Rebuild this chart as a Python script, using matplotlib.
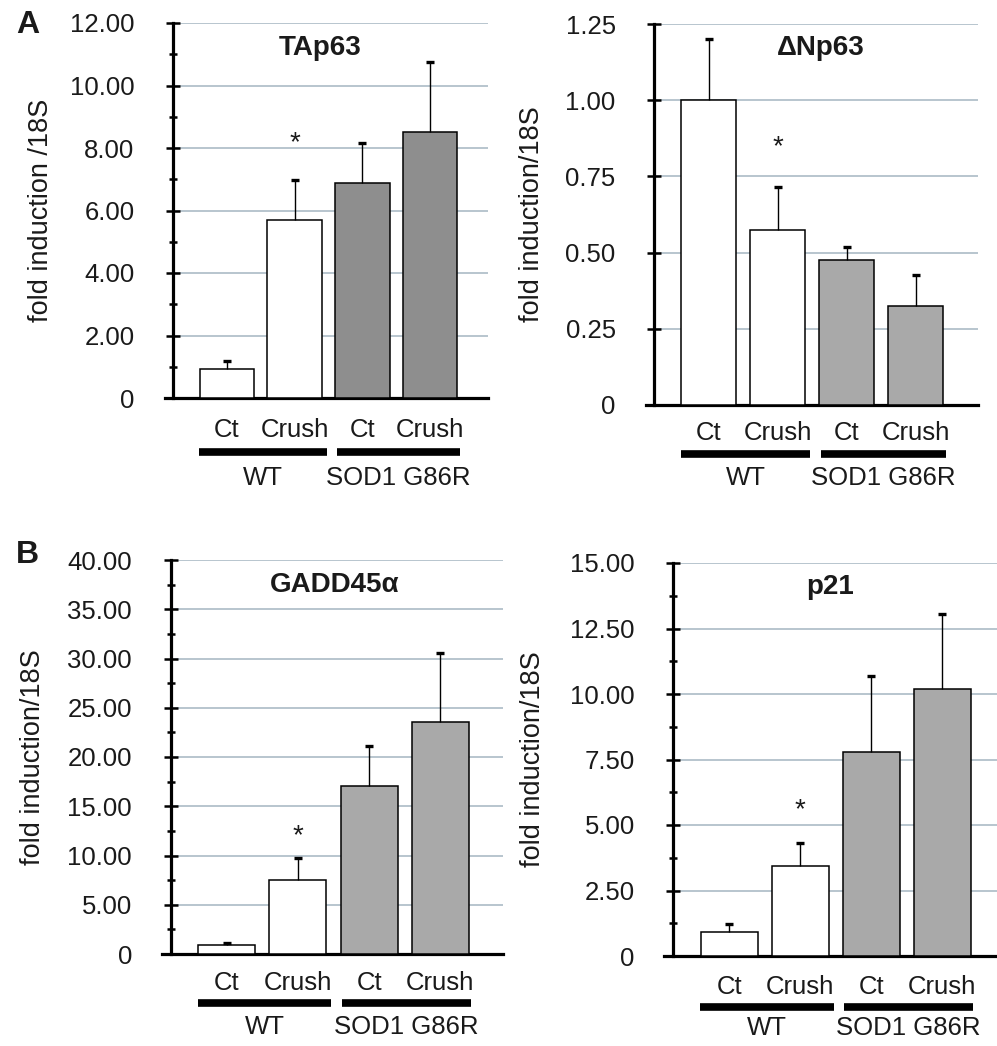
import numpy as np
import matplotlib
matplotlib.use('Agg')
import matplotlib.pyplot as plt
from matplotlib.ticker import MultipleLocator, FuncFormatter
from matplotlib.transforms import blended_transform_factory, offset_copy

plt.rcParams['font.family'] = ['Liberation Sans', 'DejaVu Sans']

# data
conditions = ['Ct', 'Crush', 'Ct', 'Crush']
groups = ['WT', 'SOD1 G86R']
star_bar = 1  # WT Crush

tap63_mean = [0.93, 5.70, 6.88, 8.50]
tap63_err = [0.25, 1.28, 1.28, 2.25]

dnp63_mean = [1.00, 0.575, 0.475, 0.325]
dnp63_err = [0.20, 0.14, 0.045, 0.102]

gadd45_mean = [0.9, 7.5, 17.1, 23.6]
gadd45_err = [0.2, 2.25, 4.0, 7.0]

p21_mean = [0.92, 3.45, 7.78, 10.2]
p21_err = [0.30, 0.85, 2.92, 2.87]

W, H = 997, 1046
fig = plt.figure(figsize=(W / 100, H / 100), dpi=100)
txt = '#1a1a1a'


def px_axes(left, right, top, bottom):
    return fig.add_axes([left / W, 1 - bottom / H, (right - left) / W, (bottom - top) / H])


def panel(ax, mean, err, title, ymax, major, minor, ylabel, xlim, gray,
          title_xy, star_y, offs, lab_x):
    x = np.arange(len(mean))
    mean = np.array(mean)
    err = np.array(err)
    colors = ['white', 'white', gray, gray]
    spine_x = -0.79
    ax.set_xlim(*xlim)
    ax.set_ylim(0, ymax)
    ax.bar(x, mean, width=0.8, color=colors, edgecolor='black', linewidth=1.1, zorder=3)
    # upper error bars only, cap at the top
    ax.vlines(x, mean, mean + err, colors='black', linewidth=1.0, zorder=4)
    ax.plot(x, mean + err, linestyle='none', marker='_', markersize=5.5,
            markeredgewidth=2.4, color='black', zorder=4, clip_on=False)
    ticks = np.arange(major, ymax + major / 2, major)
    ax.hlines(ticks, spine_x, xlim[1], colors='#b2c0ca', linewidth=1.3, zorder=0)

    for s in ['top', 'right']:
        ax.spines[s].set_visible(False)
    ax.spines['left'].set_position(('data', spine_x))
    ax.spines['left'].set_linewidth(2.3)
    ax.spines['bottom'].set_linewidth(2.3)
    ax.set_xticks([])
    ax.yaxis.set_major_locator(MultipleLocator(major))
    if minor:
        ax.yaxis.set_minor_locator(MultipleLocator(minor))
    ax.yaxis.set_major_formatter(FuncFormatter(lambda v, p: '0' if v == 0 else '%.2f' % v))
    ax.tick_params(axis='y', which='major', direction='inout', length=9.5, width=1.8,
                   pad=23, labelsize=18.5, labelcolor=txt)
    ax.tick_params(axis='y', which='minor', direction='inout', length=6, width=1.8)
    for lab in ax.get_yticklabels():
        lab.set_va('center_baseline')
    ax.set_ylabel(ylabel, fontsize=19.5, color=txt, va='center')
    ax.yaxis.set_label_coords(lab_x, 0.5)

    ax.text(title_xy[0], title_xy[1], title, fontsize=20, fontweight='bold',
            ha='center', va='center', color=txt)
    ax.text(star_bar, star_y, '*', fontsize=20, ha='center', va='center', color=txt)

    # category labels, group bars and group names under the axis
    base = blended_transform_factory(ax.transData, ax.transAxes)
    t_lab = offset_copy(base, fig=fig, y=offs[0], units='dots')
    t_bar = offset_copy(base, fig=fig, y=offs[1], units='dots')
    t_grp = offset_copy(base, fig=fig, y=offs[2], units='dots')
    for xi, c in zip(x, conditions):
        ax.text(xi, 0, c, transform=t_lab, fontsize=18.5, ha='center', va='center',
                color=txt)
    spans = [(-0.41, 1.47), (1.62, 3.43)]
    for (a, b), g in zip(spans, groups):
        ax.plot([a, b], [0, 0], transform=t_bar, color='black', linewidth=5.5,
                solid_capstyle='butt', clip_on=False)
        ax.text((a + b) / 2, 0, g, transform=t_grp, fontsize=18.5, ha='center',
                va='center', color=txt)


axA1 = px_axes(165, 488, 23, 398)
panel(axA1, tap63_mean, tap63_err, 'TAp63', 12, 2, 1, 'fold induction /18S',
      (-0.91, 3.85), '#8e8e8e', (1.38, 11.2), 8.15, (-32, -54, -80), -0.385)

axA2 = px_axes(646, 978, 24, 405)
panel(axA2, dnp63_mean, dnp63_err, '\u0394Np63', 1.25, 0.25, None, 'fold induction/18S',
      (-0.91, 3.9), '#a9a9a9', (1.62, 1.17), 0.845, (-28, -49, -73), -0.343)

axB1 = px_axes(162, 503, 560, 954)
panel(axB1, gadd45_mean, gadd45_err, 'GADD45\u03b1', 40, 5, 2.5, 'fold induction/18S',
      (-0.91, 3.88), '#a9a9a9', (1.52, 37.5), 12.0, (-29, -49, -73), -0.378)

axB2 = px_axes(664, 997, 563, 956)
panel(axB2, p21_mean, p21_err, 'p21', 15, 2.5, 1.25, 'fold induction/18S',
      (-0.92, 3.77), '#a9a9a9', (1.42, 14.1), 5.55, (-31, -51, -72), -0.393)

fig.text(16 / W, 1 - 25 / H, 'A', fontsize=23, fontweight='bold', va='center', ha='left',
         color=txt)
fig.text(16 / W, 1 - 555 / H, 'B', fontsize=23, fontweight='bold', va='center', ha='left',
         color=txt)

fig.savefig('out.png', dpi=100)
